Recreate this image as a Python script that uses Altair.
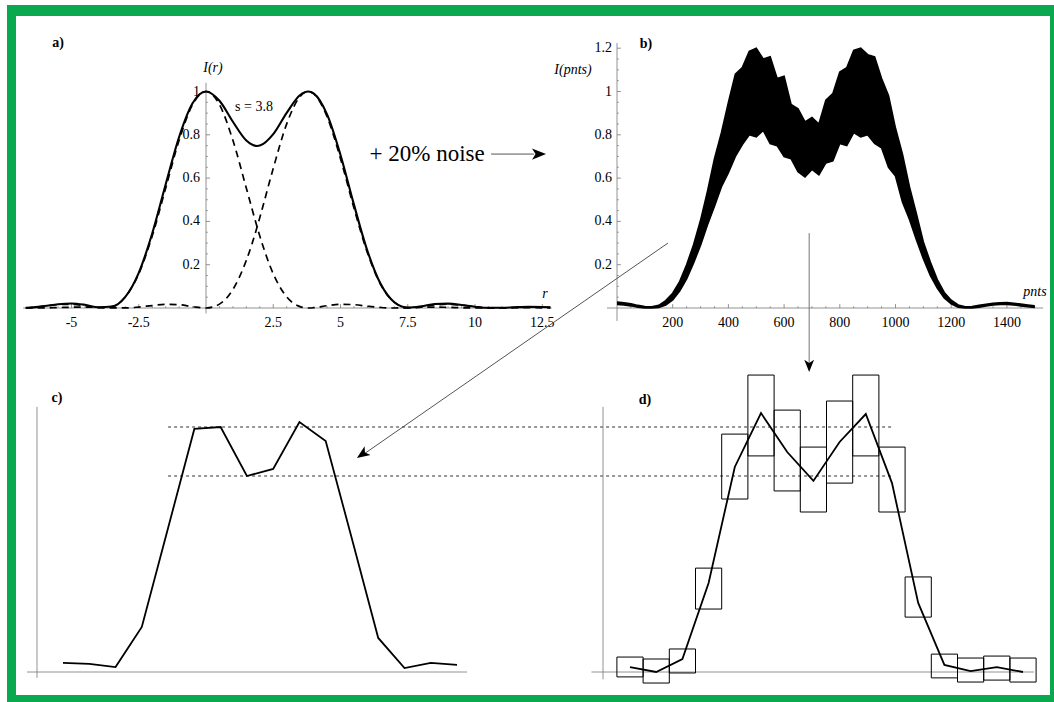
import altair as alt
import pandas as pd

FONT = "'Liberation Serif', 'DejaVu Serif', 'Times New Roman', serif"
GREEN = "#0aa84f"
AXC = "#777777"

# ---------------- panel a : two Airy profiles separated by s = 3.8 ----------------
a_r = [-6.7, -6.5, -6, -5.5, -5, -4.5, -4, -3.5, -3, -2.5, -2, -1.5, -1, -0.5,
       0, 0.5, 1, 1.5, 1.9, 2, 2.5, 3, 3.5, 3.8, 4, 4.5, 5, 5.5, 6, 6.5, 7, 7.5,
       8, 8.5, 9, 9.5, 10, 10.5, 11, 11.5, 12, 12.5, 12.8]
a_left = [0.0008, 0.0022, 0.0085, 0.0154, 0.0172, 0.0106, 0.0011, 0.0062, 0.0511, 0.1581,
          0.3326, 0.5534, 0.7748, 0.9393, 1.0, 0.9393, 0.7748, 0.5534, 0.3742, 0.3326,
          0.1581, 0.0511, 0.0062, 0.0000, 0.0011, 0.0106, 0.0172, 0.0154, 0.0085, 0.0022,
          0.0000, 0.0013, 0.0034, 0.0041, 0.0030, 0.0012, 0.0001, 0.0002, 0.0010, 0.0016,
          0.0014, 0.0007, 0.0003]
a_right = [0.0002, 0.0000, 0.0004, 0.0019, 0.0036, 0.0041, 0.0026, 0.0005, 0.0004, 0.0044,
           0.0114, 0.0170, 0.0151, 0.0064, 0.0000, 0.0179, 0.0856, 0.2204, 0.3742, 0.4175,
           0.6450, 0.8503, 0.9777, 1.0, 0.9900, 0.8836, 0.6897, 0.4620, 0.2555, 0.1070,
           0.0267, 0.0008, 0.0044, 0.0141, 0.0174, 0.0129, 0.0056, 0.0008, 0.0002, 0.0022,
           0.0040, 0.0038, 0.0030]
a_total = [0.0010, 0.0022, 0.0089, 0.0173, 0.0208, 0.0147, 0.0037, 0.0067, 0.0515, 0.1625,
           0.3440, 0.5704, 0.7899, 0.9457, 1.0, 0.9572, 0.8604, 0.7738, 0.7484, 0.7501,
           0.8031, 0.9014, 0.9839, 1.0, 0.9911, 0.8942, 0.7069, 0.4774, 0.2640, 0.1092,
           0.0267, 0.0021, 0.0078, 0.0182, 0.0204, 0.0141, 0.0057, 0.0010, 0.0012, 0.0038,
           0.0054, 0.0045, 0.0033]
a_xticks = [-5, -2.5, 2.5, 5, 7.5, 10, 12.5]
a_xlabels = ["-5", "-2.5", "2.5", "5", "7.5", "10", "12.5"]
a_yticks = [0.2, 0.4, 0.6, 0.8, 1.0]
a_ylabels = ["0.2", "0.4", "0.6", "0.8", "1"]

# ---------------- panel b : profile with 20% noise (envelope of the noise band) ----------------
b_pnts = list(range(0, 1501, 25))
b_low = [0.016, 0.014, 0.010, 0.004, 0.000, 0.000, 0.003, 0.014, 0.037, 0.078,
         0.135, 0.208, 0.290, 0.385, 0.470, 0.560, 0.625, 0.700, 0.755, 0.800,
         0.790, 0.820, 0.760, 0.750, 0.700, 0.690, 0.630, 0.605, 0.640, 0.615,
         0.670, 0.680, 0.760, 0.750, 0.810, 0.790, 0.800, 0.760, 0.740, 0.650,
         0.610, 0.490, 0.410, 0.315, 0.228, 0.150, 0.092, 0.046, 0.019, 0.004,
         0.000, 0.000, 0.004, 0.009, 0.014, 0.016, 0.016, 0.014, 0.010, 0.006, 0.002]
b_high = [0.027, 0.024, 0.020, 0.012, 0.007, 0.006, 0.012, 0.034, 0.068, 0.122,
          0.200, 0.292, 0.405, 0.540, 0.690, 0.810, 0.950, 1.080, 1.110, 1.185,
          1.200, 1.150, 1.160, 1.060, 1.070, 0.940, 0.920, 0.860, 0.880, 0.850,
          0.960, 0.990, 1.090, 1.110, 1.190, 1.200, 1.170, 1.160, 1.060, 0.980,
          0.830, 0.710, 0.560, 0.435, 0.305, 0.212, 0.131, 0.072, 0.036, 0.014,
          0.006, 0.007, 0.012, 0.017, 0.022, 0.024, 0.025, 0.022, 0.018, 0.014, 0.010]
b_xticks = [200, 400, 600, 800, 1000, 1200, 1400]
b_xlabels = ["200", "400", "600", "800", "1000", "1200", "1400"]
b_yticks = [0.2, 0.4, 0.6, 0.8, 1.0, 1.2]
b_ylabels = ["0.2", "0.4", "0.6", "0.8", "1", "1.2"]

# ---------------- panel c : binned profile ----------------
c_bin = list(range(16))
c_vals = [0.037, 0.033, 0.020, 0.184, 0.588, 0.992, 1.000, 0.800, 0.829, 1.020,
          0.943, 0.543, 0.139, 0.016, 0.037, 0.029]

# ---------------- panel d : binned noisy profile with error boxes ----------------
d_bin = list(range(16))
d_vals = [0.020, 0.000, 0.053, 0.363, 0.837, 1.057, 0.898, 0.780, 0.939, 1.053,
          0.771, 0.282, 0.029, 0.004, 0.020, 0.000]
d_low = [-0.020, -0.045, -0.004, 0.257, 0.706, 0.882, 0.739, 0.653, 0.771, 0.882,
         0.653, 0.224, -0.024, -0.041, -0.033, -0.041]
d_high = [0.061, 0.053, 0.094, 0.424, 0.971, 1.212, 1.069, 0.918, 1.106, 1.212,
          0.918, 0.388, 0.073, 0.057, 0.065, 0.057]
ref_levels = [1.0, 0.80]


# ---------------- scales (each panel placed on the page) ----------------
def sc(dom, rng):
    return alt.Scale(domain=dom, range=rng, nice=False, zero=False)

AX = sc([0, 10], [206, 475]);   AY = sc([0, 1], [308, 91.5])
BX = sc([0, 1000], [617, 895.5]); BY = sc([0, 1], [308, 91.5])
CX = sc([0, 10], [63, 325.7]);  CY = sc([0, 1], [672, 427])
DX = sc([0, 10], [630, 892]);   DY = sc([0, 1], [672, 427])


def X(f, s):
    return alt.X(f, type="quantitative", scale=s, axis=None)


def Y(f, s):
    return alt.Y(f, type="quantitative", scale=s, axis=None)


def rules(df, XS, YS, **mk):
    return alt.Chart(df).mark_rule(**mk).encode(
        x=X("x", XS), x2=alt.X2("x2"), y=Y("y", YS), y2=alt.Y2("y2"))


def texts(df, XS, YS, **mk):
    base = dict(font=FONT, fontSize=14, color="black", baseline="middle")
    base.update(mk)
    return alt.Chart(df).mark_text(**base).encode(x=X("x", XS), y=Y("y", YS), text="t:N")


def line(df, xf, yf, XS, YS, **mk):
    return alt.Chart(df).mark_line(**mk).encode(x=X(xf, XS), y=Y(yf, YS))


def arrowhead(df, XS, YS, angle, size=196):
    return alt.Chart(df).mark_point(
        shape="M0,0L-2,-0.8L-1.5,0L-2,0.8Z", filled=True, color="black",
        opacity=1, size=size, angle=angle, strokeWidth=0
    ).encode(x=X("x", XS), y=Y("y", YS))


def axis_frame(XS, YS, xext, yext, xmaj, xmin, ymaj, ymin, xlen, ylen):
    rows = [dict(x=xext[0], x2=xext[1], y=0, y2=0), dict(x=0, x2=0, y=yext[0], y2=yext[1])]
    rows += [dict(x=t, x2=t, y=0, y2=xlen) for t in xmaj]
    rows += [dict(x=t, x2=t, y=0, y2=xlen * 0.45) for t in xmin]
    rows += [dict(x=0, x2=ylen, y=t, y2=t) for t in ymaj]
    rows += [dict(x=0, x2=ylen * 0.45, y=t, y2=t) for t in ymin]
    return rules(pd.DataFrame(rows), XS, YS, color=AXC, strokeWidth=0.8)


layers = []

# green frame (page decoration, pixel units)
frame = pd.DataFrame({"x0": [7, 7, 7, 1050], "x1": [1054, 16, 1054, 1054],
                      "y0": [5, 5, 695, 5], "y1": [16, 702, 702, 702]})
layers.append(alt.Chart(frame).mark_rect(color=GREEN).encode(
    x=alt.X("x0:Q", scale=None), x2="x1:Q", y=alt.Y("y0:Q", scale=None), y2="y1:Q"))

# ---------- panel a ----------
a_minor_x = [k * 0.5 for k in range(-13, 26) if k % 5 != 0]
a_minor_y = [k * 0.05 for k in range(1, 21) if k % 4 != 0]
layers.append(axis_frame(AX, AY, (-6.8, 12.85), (-0.025, 1.04), a_xticks, a_minor_x,
                         a_yticks, a_minor_y, 0.018, 0.15))
dfa = pd.DataFrame({"r": a_r, "L": a_left, "R": a_right, "S": a_total})
layers.append(line(dfa, "r", "L", AX, AY, color="black", strokeWidth=1.7,
                   strokeDash=[7, 5], interpolate="monotone"))
layers.append(line(dfa, "r", "R", AX, AY, color="black", strokeWidth=1.7,
                   strokeDash=[7, 5], interpolate="monotone"))
layers.append(line(dfa, "r", "S", AX, AY, color="black", strokeWidth=2.1,
                   interpolate="monotone"))
layers.append(texts(pd.DataFrame({"x": a_xticks, "y": [0] * 7, "t": a_xlabels}), AX, AY,
                    dy=15, align="center"))
layers.append(texts(pd.DataFrame({"x": [0] * 5, "y": a_yticks, "t": a_ylabels}), AX, AY,
                    dx=-6, align="right"))
layers.append(texts(pd.DataFrame({"x": [-5.5], "y": [1.224], "t": ["a)"]}), AX, AY,
                    fontWeight="bold", align="center"))
layers.append(texts(pd.DataFrame({"x": [0.26, 12.6], "y": [1.109, 0.065], "t": ["I(r)", "r"]}),
                    AX, AY, fontStyle="italic", align="center"))
layers.append(texts(pd.DataFrame({"x": [1.08], "y": [0.928], "t": ["s = 3.8"]}), AX, AY,
                    align="left"))
layers.append(texts(pd.DataFrame({"x": [8.22], "y": [0.711], "t": ["+ 20% noise"]}), AX, AY,
                    fontSize=23, align="center"))
layers.append(rules(pd.DataFrame({"x": [10.6], "x2": [12.2], "y": [0.711], "y2": [0.711]}),
                    AX, AY, color="#555555", strokeWidth=1))
layers.append(arrowhead(pd.DataFrame({"x": [12.64], "y": [0.711]}), AX, AY, 0))

# ---------- panel b ----------
b_minor_x = [k * 50 for k in range(1, 31) if k % 4 != 0]
b_minor_y = [k * 0.05 for k in range(1, 25) if k % 4 != 0]
layers.append(axis_frame(BX, BY, (-36, 1530), (-0.06, 1.224), b_xticks, b_minor_x,
                         b_yticks, b_minor_y, 0.018, 14))
dfb = pd.DataFrame({"p": b_pnts, "lo": b_low, "hi": b_high})
layers.append(alt.Chart(dfb).mark_area(color="black", opacity=1).encode(
    x=X("p", BX), y=Y("lo", BY), y2=alt.Y2("hi")))
layers.append(line(dfb, "p", "lo", BX, BY, color="black", strokeWidth=1.6))
layers.append(line(dfb, "p", "hi", BX, BY, color="black", strokeWidth=1.6))
layers.append(texts(pd.DataFrame({"x": b_xticks, "y": [0] * 7, "t": b_xlabels}), BX, BY,
                    dy=15, align="center"))
layers.append(texts(pd.DataFrame({"x": [0] * 6, "y": b_yticks, "t": b_ylabels}), BX, BY,
                    dx=-5, align="right"))
layers.append(texts(pd.DataFrame({"x": [104], "y": [1.219], "t": ["b)"]}), BX, BY,
                    fontWeight="bold", align="center"))
layers.append(texts(pd.DataFrame({"x": [-158, 1501], "y": [1.099, 0.074],
                                  "t": ["I(pnts)", "pnts"]}),
                    BX, BY, fontStyle="italic", align="center"))
# vertical pointer from b to d
layers.append(rules(pd.DataFrame({"x": [690], "x2": [690], "y": [0.346], "y2": [-0.27]}),
                    BX, BY, color="#666666", strokeWidth=0.9))
layers.append(arrowhead(pd.DataFrame({"x": [690], "y": [-0.296]}), BX, BY, 90, size=150))
# diagonal pointer from b to c
layers.append(rules(pd.DataFrame({"x": [183], "x2": [-915], "y": [0.30], "y2": [-0.68]}),
                    BX, BY, color="#555555", strokeWidth=1))
layers.append(arrowhead(pd.DataFrame({"x": [-934], "y": [-0.693]}), BX, BY, 145.3, size=170))

# ---------- panel c ----------
layers.append(rules(pd.DataFrame({"x": [-1.37, -0.99], "x2": [15.38, -0.99],
                                  "y": [0, 1.082], "y2": [0, -0.024]}),
                    CX, CY, color=AXC, strokeWidth=0.8))
layers.append(rules(pd.DataFrame({"x": [4.0, 4.0], "x2": [31.6, 31.6],
                                  "y": ref_levels, "y2": ref_levels}),
                    CX, CY, color="#333333", strokeWidth=1.1, strokeDash=[3, 3]))
dfc = pd.DataFrame({"i": c_bin, "v": c_vals})
layers.append(line(dfc, "i", "v", CX, CY, color="black", strokeWidth=1.8))
layers.append(texts(pd.DataFrame({"x": [-0.23], "y": [1.118], "t": ["c)"]}), CX, CY,
                    fontWeight="bold", align="center"))

# ---------- panel d ----------
layers.append(rules(pd.DataFrame({"x": [-1.47, -1.03], "x2": [15.42, -1.03],
                                  "y": [0, 1.082], "y2": [0, -0.03]}),
                    DX, DY, color=AXC, strokeWidth=0.8))
dfd = pd.DataFrame({"i": d_bin, "v": d_vals, "lo": d_low, "hi": d_high})
dfd["left"] = dfd["i"] - 0.5
dfd["right"] = dfd["i"] + 0.5
layers.append(alt.Chart(dfd).mark_rect(fillOpacity=0, stroke="black", strokeWidth=1).encode(
    x=X("left", DX), x2=alt.X2("right"), y=Y("lo", DY), y2=alt.Y2("hi")))
layers.append(line(dfd, "i", "v", DX, DY, color="black", strokeWidth=1.8))
layers.append(texts(pd.DataFrame({"x": [0.57], "y": [1.11], "t": ["d)"]}), DX, DY,
                    fontWeight="bold", align="center"))

chart = alt.layer(*layers).resolve_scale(x="independent", y="independent").properties(
    width=1054, height=702, autosize=alt.AutoSizeParams(type="none"), padding=0,
    background="white"
).configure_view(strokeWidth=0)

chart.save("out.html", embed_options={"renderer": "svg", "actions": False})
